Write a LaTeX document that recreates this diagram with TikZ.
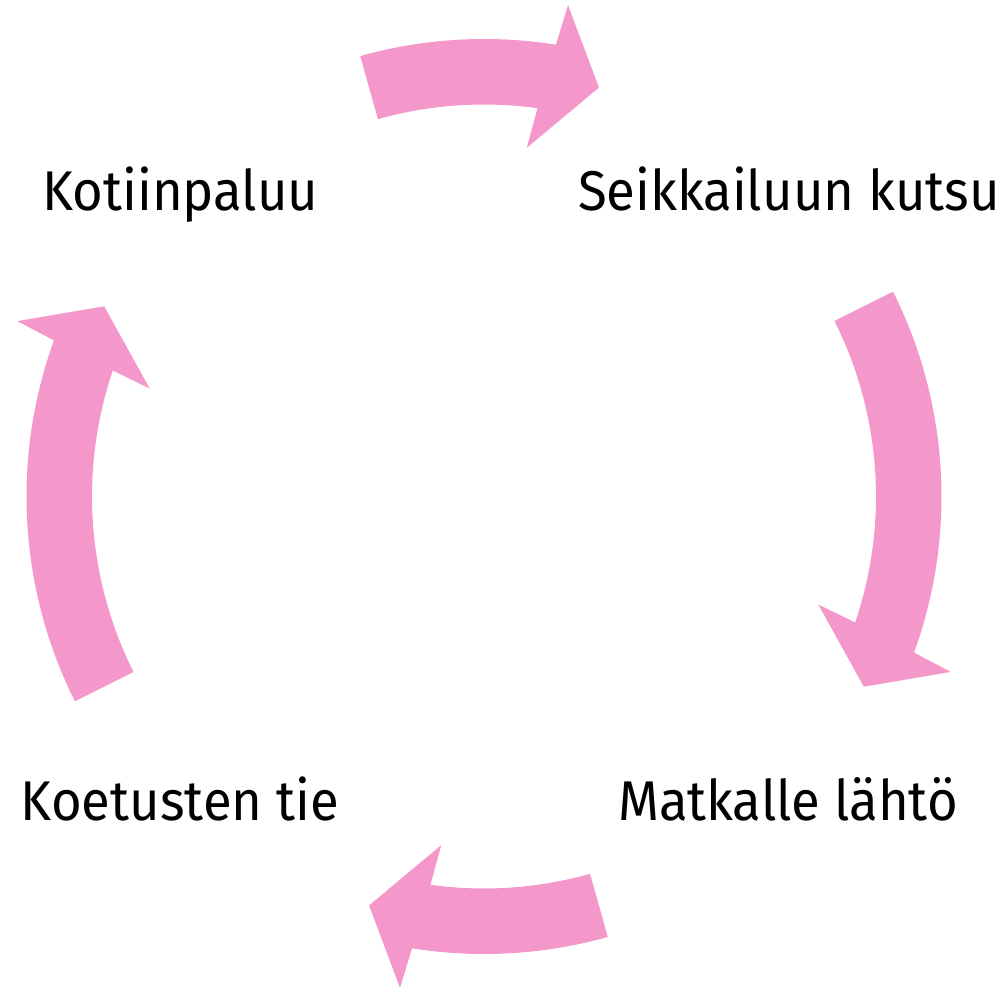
\documentclass[tikz,border=0pt]{standalone}
\usepackage{fontspec}
\setmainfont{Fira Sans}[FakeStretch=0.94]
\definecolor{arrowpink}{RGB}{244,151,203}
\newcommand\pinkarrow[2]{%
  \fill[arrowpink] (#1:457.5) arc[start angle=#1, end angle={#2+6.65}, radius=457.5]
    -- ({#2+6.0}:498.6) -- (#2:424.8) -- ({#2+8.7}:351.3) -- ({#2+7.85}:392)
    arc[start angle={#2+7.85}, end angle=#1, radius=392] -- cycle;}
\begin{document}
\begin{tikzpicture}[x=1pt,y=1pt,
  lbl/.style={anchor=base, inner sep=0pt, font=\fontsize{56}{60}\selectfont, text=black}]
\useasboundingbox (-484,-489.5) rectangle (519,496.5);
\pinkarrow{105.7}{74.3}
\pinkarrow{26.6}{-26.6}
\pinkarrow{-74.3}{-105.7}
\pinkarrow{206.6}{153.4}
\node[lbl] (koti) at (-303.5,286.5) {Kotiinpaluu};
\node[lbl] (seik) at (305,286.5) {Seikkailuun kutsu};
\node[lbl] (koet) at (-304,-323.5) {Koetusten tie};
\node[lbl] (matk) at (304,-323.5) {Matkalle lähtö};
\end{tikzpicture}
\end{document}
